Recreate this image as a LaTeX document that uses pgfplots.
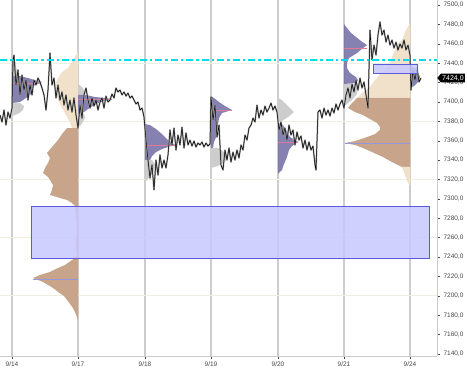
\documentclass[border=0pt]{standalone}
\usepackage{pgfplots}
\pgfplotsset{compat=1.18}
\usepackage{fontspec}
\setmainfont{Liberation Sans}
\usetikzlibrary{shapes.symbols}
\definecolor{tanc}{RGB}{242,225,202}
\definecolor{brownc}{RGB}{200,164,138}
\definecolor{purpc}{RGB}{112,108,165}
\definecolor{grayc}{RGB}{205,205,205}
\definecolor{gridc}{RGB}{205,205,205}
\definecolor{hgridc}{RGB}{238,238,225}
\definecolor{pocc}{RGB}{225,120,150}
\definecolor{pocb}{RGB}{150,150,220}
\definecolor{cyanc}{RGB}{0,220,232}
\definecolor{rectf}{RGB}{200,200,255}
\definecolor{rectd}{RGB}{90,90,220}
\definecolor{labc}{RGB}{70,70,70}
\begin{document}
\begin{tikzpicture}
\path[use as bounding box] (0pt,-14pt) rectangle (467pt,356pt);
\begin{axis}[
  scale only axis, width=437pt, height=356pt,
  xmin=0, xmax=437, ymin=7137.9, ymax=7505.2,
  axis x line*=bottom, axis y line*=right,
  axis line style={draw=gridc, line width=0.8pt},
  clip=false,
  xtick={12,78,145,211,278,344,410},
  xticklabels={9/14,9/17,9/18,9/19,9/20,9/21,9/24},
  ytick={7140,7160,...,7500},
  tick align=outside, major tick length=3pt,
  tick style={draw=labc, line width=0.4pt},
  xmajorgrids, major x grid style={draw=gridc, line width=1.1pt},
  extra y ticks={7200,7260,7320,7380,7440},
  extra y tick labels={},
  extra y tick style={ymajorgrids=true, major tick length=0pt, major grid style={draw=hgridc, line width=0.8pt}},
  ticklabel style={font=\fontsize{6.5}{7}\selectfont, text=labc},
  yticklabel style={/pgf/number format/.cd, fixed, fixed zerofill, precision=1, use comma, 1000 sep={}, assume math mode=true},
  xticklabel style={yshift=1pt},
  every axis plot post/.append style={mark=none},
]
% composite profile anchored at 9/17 (extends left)
\addplot[fill=tanc, draw=none] coordinates {(78,7451.5)(76,7448.4)(72,7441.2)(68,7435.0)(62,7430.9)(58,7424.7)(55,7417.5)(56,7410.3)(58,7402.0)(62,7393.7)(66,7386.5)(70,7379.3)(72,7373.1)(78,7373.1)} -- cycle;
\addplot[fill=brownc, draw=none] coordinates {(78,7373.1)(67,7373.1)(62,7366.9)(58,7360.7)(52,7353.5)(47,7347.3)(50,7342.2)(48,7337.0)(45,7331.9)(43,7326.7)(48,7322.6)(50,7319.5)(53,7314.3)(52,7309.2)(50,7304.0)(60,7300.9)(67,7298.9)(72,7295.7)(75,7292.7)(76,7283.4)(77,7267.9)(76,7252.4)(77,7242.1)(75,7239.0)(72,7236.9)(65,7231.8)(58,7228.7)(50,7224.6)(40,7221.5)(33,7218.4)(38,7216.3)(43,7214.3)(48,7211.2)(53,7208.1)(58,7204.0)(64,7199.8)(67,7195.7)(70,7191.6)(73,7187.4)(75,7183.3)(77,7178.1)(78,7175.0)} -- cycle;
\addplot[pocb, line width=0.6pt] coordinates {(33,7217.3)(78,7217.3)};
% composite profile anchored at 9/24 (extends left)
\addplot[fill=tanc, draw=none] coordinates {(410,7481.4)(406,7474.2)(402,7463.9)(397,7458.7)(393,7448.4)(390,7441.2)(387,7435.0)(380,7428.8)(375,7422.6)(370,7415.4)(362,7409.2)(357,7404.1)(410,7404.1)} -- cycle;
\addplot[fill=brownc, draw=none] coordinates {(410,7404.1)(357,7404.1)(352,7398.9)(348,7393.7)(355,7389.6)(363,7386.5)(370,7382.4)(377,7378.3)(380,7374.1)(380,7371.1)(375,7366.9)(367,7363.8)(355,7359.7)(345,7357.6)(355,7355.6)(363,7352.5)(372,7348.3)(383,7343.2)(392,7338.0)(402,7332.9)(410,7332.9)} -- cycle;
\addplot[fill=tanc, draw=none] coordinates {(410,7332.9)(402,7332.9)(404,7327.7)(406,7321.5)(408,7316.4)(410,7313.3)} -- cycle;
\addplot[pocb, line width=0.6pt] coordinates {(345,7357.6)(410,7357.6)};
% daily profiles
\addplot[fill=grayc, draw=none] coordinates {(12,7448.4)(14,7445.3)(16,7438.1)(17,7430.9)(18,7425.7)(12,7425.7)} -- cycle;
\addplot[fill=purpc, fill opacity=0.85, draw=none] coordinates {(12,7426.8)(20,7426.8)(28,7424.7)(35,7422.6)(42,7420.6)(38,7418.5)(33,7416.4)(32,7412.3)(31,7408.2)(26,7404.1)(20,7399.9)(12,7398.9)} -- cycle;
\addplot[fill=grayc, draw=none] coordinates {(12,7398.9)(20,7398.9)(24,7395.8)(23,7391.7)(18,7387.6)(12,7385.5)} -- cycle;
\addplot[pocc, line width=0.6pt] coordinates {(12,7419.5)(40,7419.5)};
\addplot[fill=grayc, draw=none] coordinates {(78,7418.5)(81,7416.4)(84,7412.3)(85,7407.2)(78,7407.2)} -- cycle;
\addplot[fill=purpc, fill opacity=0.85, draw=none] coordinates {(78,7407.2)(86,7407.2)(95,7405.1)(105,7404.1)(112,7403.0)(104,7401.0)(98,7398.9)(93,7395.8)(88,7392.7)(84,7389.6)(78,7387.6)} -- cycle;
\addplot[fill=grayc, draw=none] coordinates {(78,7387.6)(84,7387.6)(85,7383.4)(83,7379.3)(80,7375.2)(78,7374.1)} -- cycle;
\addplot[pocc, line width=0.6pt] coordinates {(78,7403.0)(112,7403.0)};
\addplot[fill=purpc, fill opacity=0.85, draw=none] coordinates {(145,7377.2)(150,7376.2)(156,7372.1)(162,7366.9)(168,7360.7)(175,7355.6)(168,7353.5)(162,7351.4)(156,7348.3)(152,7344.2)(150,7340.1)(145,7340.1)} -- cycle;
\addplot[fill=grayc, draw=none] coordinates {(145,7340.1)(152,7340.1)(155,7336.0)(154,7329.8)(150,7323.6)(147,7319.5)(145,7317.4)} -- cycle;
\addplot[pocc, line width=0.6pt] coordinates {(145,7355.6)(175,7355.6)};
\addplot[fill=purpc, fill opacity=0.85, draw=none] coordinates {(211,7406.1)(214,7404.1)(219,7399.9)(225,7395.8)(232,7391.7)(222,7388.6)(219,7383.4)(218,7376.2)(217,7365.9)(214,7358.7)(213,7352.5)(211,7352.5)} -- cycle;
\addplot[fill=grayc, draw=none] coordinates {(211,7352.5)(218,7352.5)(224,7348.3)(227,7343.2)(225,7338.0)(218,7333.9)(211,7331.9)} -- cycle;
\addplot[pocc, line width=0.6pt] coordinates {(211,7391.7)(232,7391.7)};
\addplot[fill=grayc, draw=none] coordinates {(278,7404.1)(282,7402.0)(288,7395.8)(294,7389.6)(288,7384.5)(282,7380.3)(278,7379.3)} -- cycle;
\addplot[fill=purpc, fill opacity=0.85, draw=none] coordinates {(278,7378.3)(283,7376.2)(286,7371.1)(290,7363.8)(298,7358.7)(292,7354.5)(289,7350.4)(287,7343.2)(284,7336.0)(282,7329.8)(278,7325.7)} -- cycle;
\addplot[pocc, line width=0.6pt] coordinates {(278,7358.7)(298,7358.7)};
\addplot[fill=purpc, fill opacity=0.85, draw=none] coordinates {(344,7480.4)(347,7476.3)(351,7471.1)(356,7467.0)(361,7462.9)(367,7458.7)(363,7455.6)(357,7450.5)(349,7445.3)(347,7440.2)(347,7435.0)(350,7429.9)(356,7425.7)(358,7422.6)(356,7419.5)(344,7418.5)} -- cycle;
\addplot[fill=grayc, draw=none] coordinates {(344,7418.5)(356,7418.5)(358,7414.4)(357,7408.2)(352,7402.0)(347,7397.9)(344,7395.8)} -- cycle;
\addplot[pocc, line width=0.6pt] coordinates {(344,7455.6)(367,7455.6)};
\addplot[fill=purpc, fill opacity=0.85, draw=none] coordinates {(410,7437.1)(415,7435.0)(418,7430.9)(420,7425.7)(418,7420.6)(414,7416.4)(410,7414.4)} -- cycle;
% price
\pgfplotstableread{
x y
0 7386.5
2 7379.3
4 7391.7
6 7376.2
8 7389.6
10 7383.4
12 7393.7
13 7443.3
14 7448.4
16 7417.5
18 7433.0
20 7407.2
22 7427.8
24 7412.3
26 7422.6
28 7402.0
30 7417.5
32 7407.2
34 7422.6
36 7417.5
38 7424.7
40 7420.6
42 7414.4
44 7407.2
46 7391.7
48 7412.3
50 7450.5
52 7417.5
54 7424.7
56 7404.1
58 7417.5
60 7402.0
62 7410.3
64 7396.8
66 7407.2
68 7391.7
70 7402.0
72 7389.6
74 7404.1
76 7386.5
78 7373.1
80 7396.8
82 7383.4
84 7407.2
86 7414.4
88 7402.0
90 7393.7
92 7404.1
94 7395.8
96 7402.0
98 7391.7
100 7399.9
102 7404.1
104 7393.7
106 7406.1
108 7399.9
110 7402.0
112 7408.2
114 7404.1
116 7414.4
118 7410.3
120 7412.3
122 7407.2
124 7410.3
126 7406.1
128 7409.2
130 7404.1
132 7406.1
134 7402.0
136 7397.9
138 7399.9
140 7391.7
142 7393.7
144 7384.5
146 7360.7
148 7340.1
150 7321.5
152 7335.0
154 7309.2
156 7340.1
158 7324.6
160 7345.3
162 7331.9
164 7340.1
166 7331.9
168 7345.3
170 7371.1
172 7355.6
174 7373.1
176 7350.4
178 7365.9
180 7355.6
182 7374.1
184 7352.5
186 7368.0
188 7355.6
190 7360.7
192 7354.5
194 7359.7
196 7353.5
198 7357.6
200 7355.6
202 7358.7
204 7353.5
206 7357.6
208 7354.5
210 7356.6
211 7405.1
213 7381.4
215 7396.8
217 7363.8
219 7376.2
221 7335.0
223 7329.8
225 7350.4
227 7340.1
229 7352.5
231 7338.0
233 7348.3
235 7340.1
237 7350.4
239 7342.2
241 7355.6
243 7350.4
245 7365.9
247 7360.7
249 7373.1
251 7376.2
253 7383.4
255 7379.3
257 7396.8
259 7383.4
261 7391.7
263 7386.5
265 7395.8
267 7389.6
269 7393.7
271 7398.9
273 7391.7
275 7395.8
277 7389.6
279 7371.1
281 7379.3
283 7365.9
285 7373.1
287 7360.7
289 7376.2
291 7365.9
293 7371.1
295 7355.6
297 7369.0
299 7360.7
301 7364.9
303 7352.5
305 7360.7
307 7350.4
309 7358.7
311 7350.4
313 7354.5
315 7335.0
316 7329.8
318 7389.6
320 7391.7
322 7383.4
324 7393.7
326 7386.5
328 7391.7
330 7385.5
332 7393.7
334 7388.6
336 7397.9
338 7391.7
340 7397.9
342 7402.0
344 7393.7
346 7407.2
348 7414.4
350 7404.1
352 7418.5
354 7410.3
356 7422.6
358 7412.3
360 7424.7
362 7414.4
364 7420.6
366 7407.2
368 7393.7
370 7474.2
372 7443.3
374 7458.7
376 7448.4
378 7469.0
380 7482.5
382 7469.0
384 7474.2
386 7461.8
388 7469.0
390 7458.7
392 7463.9
394 7455.6
396 7461.8
398 7453.6
400 7459.8
402 7455.6
404 7463.9
406 7453.6
408 7458.7
410 7448.4
411 7412.3
413 7433.0
415 7422.6
417 7435.0
419 7420.6
421 7424.7
}\pricetab
\addplot[draw=black!40, line width=1.5pt, line join=round] table[x=x,y=y] {\pricetab};
\addplot[draw=black, line width=0.5pt, line join=round] table[x=x,y=y] {\pricetab};
% zones
\addplot[fill=rectf, fill opacity=0.85, draw=rectd, line width=0.7pt] coordinates {(31,7239.0)(429,7239.0)(429,7292.7)(31,7292.7)} -- cycle;
\addplot[fill=rectf, fill opacity=0.85, draw=rectd, line width=0.7pt] coordinates {(373,7429.9)(417,7429.9)(417,7439.1)(373,7439.1)} -- cycle;
% reference level
\addplot[cyanc, line width=1.8pt, dash pattern=on 7pt off 3pt on 2.5pt off 3pt] coordinates {(0,7443.3)(437,7443.3)};
% last price tag
\node[signal, signal to=west, signal pointer angle=100, fill=black, text=white, inner xsep=1.3pt, inner ysep=1.5pt, font=\fontsize{7}{7.5}\selectfont, anchor=west] at (axis cs:437,7424.7) {7424,0};
\end{axis}
\end{tikzpicture}
\end{document}
